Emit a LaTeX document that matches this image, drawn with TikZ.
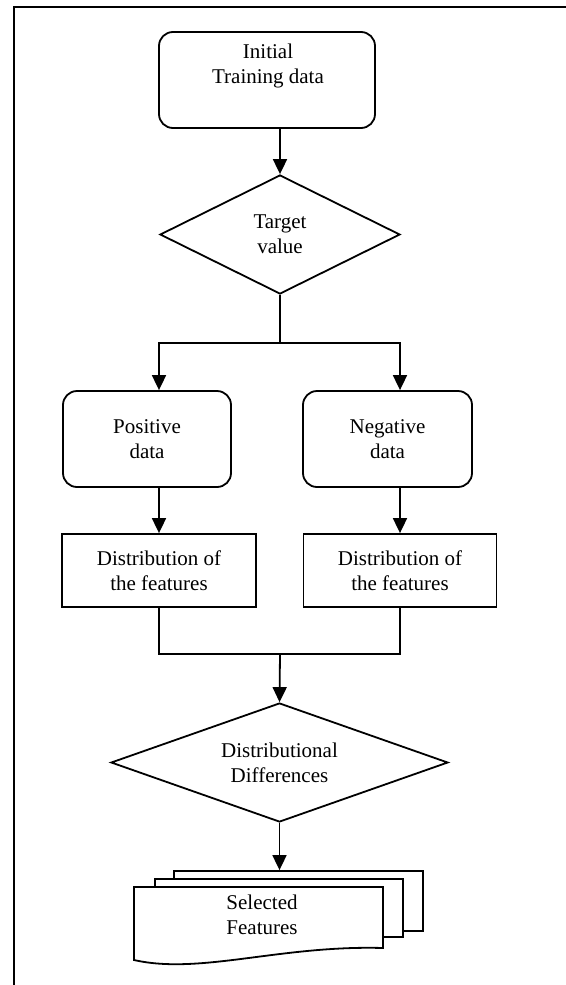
\documentclass[tikz,border=0pt]{standalone}
\usepackage{fontspec}
\setmainfont{Liberation Serif}
\usetikzlibrary{shapes.geometric,arrows.meta}
\begin{document}
\begin{tikzpicture}[x=1bp,y=-1bp,
  every node/.style={font=\fontsize{21bp}{25bp}\selectfont, align=center, inner sep=0pt},
  ln/.style={line width=1.8bp},
  rbox/.style={ln, draw, rounded corners=14bp},
  pbox/.style={ln, draw},
  dia/.style={ln, draw, diamond},
  page/.style={ln, draw, fill=white},
  arr/.style={ln, -{Triangle[width=14bp,length=15bp]}}]
\useasboundingbox (0,0) rectangle (566,985);
% frame
\draw[ln] (14,985) -- (14,7) -- (566,7);
% nodes
\node[rbox, minimum width=216bp, minimum height=96bp] (init) at (267,80) {};
\node (initT) at (268,65.7) {Initial\\Training data};
\node[dia, minimum width=240bp, minimum height=119bp, aspect=2.0] (t1) at (280,234.5) {Target\\value};
\node[rbox, minimum width=168bp, minimum height=96bp] (pos) at (147,439) {Positive\\data};
\node[rbox, minimum width=169bp, minimum height=96bp] (neg) at (387.5,439) {Negative\\data};
\node[pbox, minimum width=194bp, minimum height=73bp] (dl) at (159,570.5) {Distribution of\\the features};
\node[pbox, minimum width=193bp, minimum height=73bp] (dr) at (400,570.5) {Distribution of\\the features};
\node[dia, minimum width=337bp, minimum height=119bp, aspect=2.83] (dd) at (279.5,762.5) {Distributional\\Differences};
% document stack
\node[page, minimum width=249bp, minimum height=60bp] (docB) at (298.5,901) {};
\node[page, minimum width=248bp, minimum height=58bp] (docM) at (279,908) {};
\draw[page] (134,887) -- (383,887) -- (383,948)
  .. controls (280,945) and (200,975) .. (134,960) -- cycle;
\node (sel) at (262,915) {Selected\\Features};
% connectors
\coordinate (split) at (280,343);
\coordinate (join) at (280,654);
\draw[arr] (init.south -| t1.north) -- (t1.north);
\draw[ln] (t1.south) -- (split);
\draw[arr] (split) -| (dl.north |- pos.north);
\draw[arr] (split) -| (dr.north |- neg.north);
\draw[arr] (dl.north |- pos.south) -- (dl.north);
\draw[arr] (dr.north |- neg.south) -- (dr.north);
\draw[ln] (dl.south) |- (join);
\draw[ln] (dr.south) |- (join);
\draw[arr] (join) -- (dd.north);
\draw[arr] (dd.south) -- (dd.south |- docB.north);
\end{tikzpicture}
\end{document}
